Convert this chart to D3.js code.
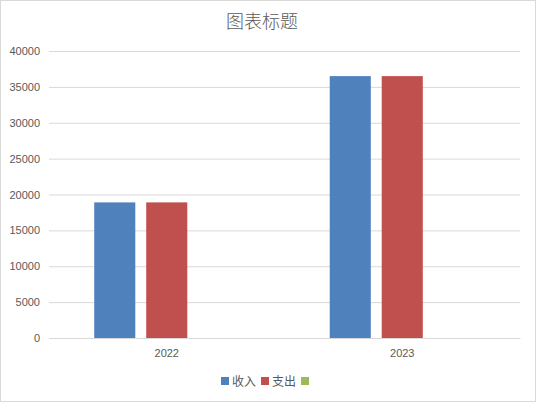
<!DOCTYPE html>
<html>
<head>
<meta charset="utf-8">
<script src="https://cdn.jsdelivr.net/npm/d3@7"></script>
<style>
body{margin:0;background:#fff;}
text{font-family:"Liberation Sans",Arial,sans-serif;}
</style>
</head>
<body>
<svg id="chart" width="536" height="402"></svg>
<script>
// 数据
var years=["2022","2023"];
var seriesNames=["收入","支出",""];
var income=[18900,36500];
var expense=[18900,36500];
var third=[0,0];
var yTicks=[0,5000,10000,15000,20000,25000,30000,35000,40000];
var colors=["#4f81bd","#c0504d","#9bbb59"];

var svg=d3.select("#chart");
var W=536,H=402;
var margin={left:49,right:16,top:51,bottom:64};

svg.append("rect")
    .attr("x",0.5).attr("y",0.5)
    .attr("width",W-1).attr("height",H-1)
    .attr("fill","#fff")
    .attr("stroke","#d9d9d9");

var scale_y=d3.scaleLinear().domain([0,40000]).range([H-margin.bottom,margin.top]);
var x0=d3.scaleBand().domain(years).range([margin.left,W-margin.right]).paddingInner(0).paddingOuter(0);
var x1=d3.scaleBand().domain(seriesNames.map(function(d,i){return i;}))
    .range([0,x0.bandwidth()]).paddingInner(0.21).paddingOuter(0.87);

//网格线
var yAxis=d3.axisLeft(scale_y).tickValues(yTicks).tickFormat(d3.format("d"))
    .tickSize(-(W-margin.left-margin.right)).tickPadding(9);
var gy=svg.append("g").attr("transform","translate("+margin.left+",0)").call(yAxis);
gy.select(".domain").remove();
gy.selectAll(".tick line").attr("stroke","#d9d9d9").attr("stroke-width",1);
gy.selectAll(".tick text").attr("fill","#595959").style("font-size","11px");

var xAxis=d3.axisBottom(x0).tickSize(0).tickPadding(11);
var gx=svg.append("g").attr("transform","translate(0,"+(H-margin.bottom)+")").call(xAxis);
gx.select(".domain").attr("stroke","#d9d9d9");
gx.selectAll(".tick text").attr("fill","#595959").style("font-size","11px");

//柱子
var data=[income,expense,third];
years.forEach(function(y,j){
    var g=svg.append("g").attr("transform","translate("+x0(y)+",0)");
    data.forEach(function(s,i){
        if(s[j]<=0) return;
        g.append("rect")
            .attr("x",x1(i))
            .attr("width",x1.bandwidth())
            .attr("y",scale_y(s[j]))
            .attr("height",scale_y(0)-scale_y(s[j]))
            .attr("fill",colors[i]);
    });
});

//标题
svg.append("text")
    .attr("x",262).attr("y",28)
    .attr("text-anchor","middle")
    .attr("fill","#595959")
    .style("font-family","'Noto Sans CJK SC',sans-serif")
    .style("font-size","18px")
    .style("font-weight","300")
    .text("图表标题");

//图例
var lg=svg.append("g");
var lx=221;
seriesNames.forEach(function(n,i){
    lg.append("rect").attr("x",lx).attr("y",377).attr("width",8).attr("height",8).attr("fill",colors[i]);
    lx+=11;
    if(n){
        var t=lg.append("text").attr("x",lx).attr("y",386)
            .attr("fill","#595959")
            .style("font-family","'Noto Sans CJK SC',sans-serif")
            .style("font-size","12px")
            .text(n);
        lx+=t.node().getComputedTextLength()+5;
    }
});
</script>
</body>
</html>
